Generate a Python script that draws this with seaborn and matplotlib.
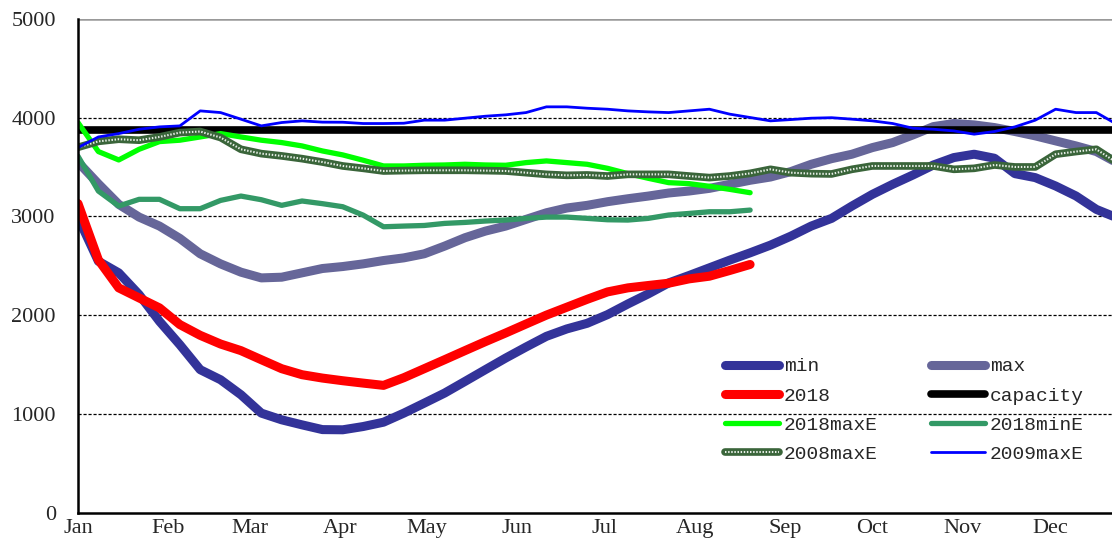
import numpy as np
import matplotlib
matplotlib.use('Agg')
import matplotlib.pyplot as plt
import seaborn as sns
from matplotlib.legend_handler import HandlerTuple

sns.set_style('white')
plt.rcParams['font.family'] = ['Liberation Serif', 'DejaVu Serif']

# weekly points, placed on a day-of-year axis
weeks = np.arange(52)
days = weeks * 7

month_start = [0, 31, 59, 90, 120, 151, 181, 212, 243, 273, 304, 334]
month_names = ['Jan', 'Feb', 'Mar', 'Apr', 'May', 'Jun',
               'Jul', 'Aug', 'Sep', 'Oct', 'Nov', 'Dec']

min_vals = [2990, 2546, 2428, 2208, 1937, 1700, 1447, 1345, 1193, 1007,
            939, 888, 840, 838, 871, 915, 1007, 1108, 1210, 1328,
            1447, 1565, 1677, 1785, 1860, 1917, 2005, 2113, 2215, 2326,
            2401, 2479, 2557, 2631, 2709, 2800, 2902, 2980, 3105, 3223,
            3325, 3420, 3521, 3596, 3630, 3589, 3433, 3393, 3308, 3207,
            3071, 2987]
max_vals = [3550, 3330, 3122, 2993, 2902, 2777, 2621, 2519, 2435, 2377,
            2384, 2428, 2472, 2492, 2519, 2553, 2580, 2621, 2699, 2784,
            2851, 2902, 2970, 3037, 3085, 3112, 3149, 3179, 3206, 3237,
            3257, 3284, 3325, 3366, 3399, 3454, 3528, 3585, 3630, 3697,
            3748, 3826, 3910, 3941, 3927, 3900, 3860, 3816, 3765, 3714,
            3657, 3545]
y2018 = [3130, 2560, 2276, 2174, 2073, 1904, 1795, 1707, 1640, 1548,
         1457, 1396, 1362, 1335, 1311, 1288, 1366, 1457, 1548, 1640,
         1731, 1819, 1910, 2000, 2080, 2160, 2235, 2276, 2300, 2323,
         2367, 2394, 2452, 2513]
capacity = [3880] * 52
max_e_2018 = [3950, 3657, 3572, 3680, 3758, 3772, 3805, 3839, 3805, 3772,
              3748, 3714, 3663, 3623, 3569, 3511, 3511, 3518, 3521, 3528,
              3521, 3518, 3545, 3562, 3545, 3528, 3487, 3433, 3386, 3342,
              3332, 3305, 3274, 3240]
min_e_2018 = [3610, 3257, 3105, 3173, 3173, 3078, 3078, 3162, 3206, 3169,
              3112, 3156, 3129, 3098, 3013, 2895, 2902, 2908, 2929, 2939,
              2953, 2963, 2980, 2993, 2993, 2980, 2966, 2963, 2980, 3014,
              3030, 3047, 3047, 3064]
max_e_2008 = [3700, 3760, 3782, 3772, 3805, 3849, 3860, 3799, 3680, 3636,
              3613, 3585, 3551, 3511, 3487, 3460, 3464, 3467, 3467, 3467,
              3464, 3460, 3443, 3426, 3416, 3420, 3409, 3426, 3426, 3426,
              3409, 3393, 3409, 3436, 3477, 3443, 3433, 3430, 3477, 3511,
              3511, 3511, 3511, 3477, 3487, 3521, 3501, 3501, 3630, 3657,
              3680, 3545]
max_e_2009 = [3697, 3805, 3839, 3883, 3907, 3917, 4069, 4052, 3985, 3917,
              3951, 3968, 3955, 3954, 3941, 3941, 3944, 3975, 3975, 3995,
              4015, 4029, 4052, 4110, 4110, 4096, 4086, 4069, 4059, 4052,
              4069, 4086, 4036, 4002, 3968, 3981, 3995, 4000, 3985, 3968,
              3941, 3893, 3883, 3866, 3833, 3860, 3907, 3975, 4086, 4052,
              4052, 3934]

fig = plt.figure(figsize=(11.12, 5.45), dpi=100)
ax = fig.add_axes([78 / 1112, 32.5 / 545, 1062 / 1112, 493.5 / 545])

kw = dict(ax=ax, solid_capstyle='round', solid_joinstyle='round')
sns.lineplot(x=days, y=min_vals, color='#333399', lw=6.5, label='min', **kw)
sns.lineplot(x=days, y=max_vals, color='#666699', lw=6.5, label='max', **kw)
sns.lineplot(x=days[:len(y2018)], y=y2018, color='#ff0000', lw=6.5, label='2018', **kw)
sns.lineplot(x=days, y=capacity, color='black', lw=5.5, label='capacity', **kw)
sns.lineplot(x=days[:len(max_e_2018)], y=max_e_2018, color='#00ff00', lw=3.8, label='2018maxE', **kw)
sns.lineplot(x=days[:len(min_e_2018)], y=min_e_2018, color='#339966', lw=3.8, label='2018minE', **kw)
# patterned line: dark green band with white dots on top
sns.lineplot(x=days, y=max_e_2008, color='#3a653a', lw=5.5, label='2008maxE', **kw)
sns.lineplot(x=days, y=max_e_2008, ax=ax, color='#e8efe8', lw=1.5,
             linestyle=(0, (0.7, 0.8)), label='_dots')
sns.lineplot(x=days, y=max_e_2009, color='#0000ff', lw=2, label='2009maxE', **kw)

lines = {l.get_label(): l for l in ax.lines}
lines['2008maxE'] = (ax.lines[6], ax.lines[7])

ax.set_xlim(0, 365)
ax.set_ylim(0, 5000)
ax.set_yticks([0, 1000, 2000, 3000, 4000, 5000])
ax.set_xticks(month_start)
ax.set_xticklabels(month_names)
ax.set_xlabel('')
ax.set_ylabel('')
ax.tick_params(axis='x', direction='in', length=5, width=1.2, pad=5, labelsize=16, color='black')
ax.tick_params(axis='y', length=0, pad=16, labelsize=16)

for y in [1000, 2000, 3000, 4000]:
    ax.axhline(y, color='black', lw=0.9, ls=(0, (2.5, 1.5)), zorder=0.5)
ax.axhline(5000, color='#999999', lw=1.8, zorder=0.5)

for s in ['top', 'right']:
    ax.spines[s].set_visible(False)
ax.spines['left'].set_linewidth(1.8)
ax.spines['bottom'].set_linewidth(1.8)
ax.spines['left'].set_color('black')
ax.spines['bottom'].set_color('black')

order = ['min', '2018', '2018maxE', '2008maxE', 'max', 'capacity', '2018minE', '2009maxE']
ax.legend([lines[k] for k in order], order, ncol=2, loc='upper left',
          bbox_to_anchor=(715 / 1112, 1 - 348 / 545), bbox_transform=fig.transFigure,
          frameon=False, borderpad=0, handlelength=2.8, handletextpad=0.25,
          columnspacing=2.7, labelspacing=0.6,
          handler_map={tuple: HandlerTuple(ndivide=1, pad=0)},
          prop={'family': ['Liberation Mono', 'DejaVu Sans Mono'], 'size': 14})

fig.savefig('out.png', dpi=100)
